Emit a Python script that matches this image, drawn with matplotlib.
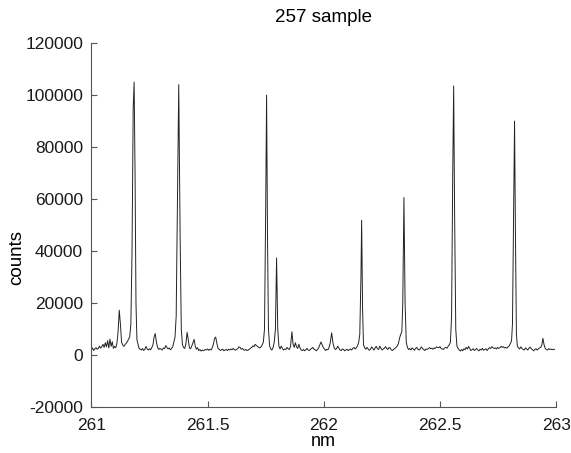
import matplotlib
matplotlib.use("Agg")
from matplotlib import pyplot as plt

# spectrum (wavelength in nm, counts)
wavelength = [
    261.000, 261.005, 261.010, 261.015, 261.020, 261.025, 261.030, 261.035, 261.040, 261.045,
    261.050, 261.055, 261.060, 261.065, 261.070, 261.075, 261.080, 261.085, 261.090, 261.095,
    261.100, 261.105, 261.110, 261.115, 261.120, 261.125, 261.130, 261.135, 261.140, 261.145,
    261.150, 261.155, 261.160, 261.165, 261.170, 261.175, 261.180, 261.184, 261.188, 261.192,
    261.196, 261.200, 261.205, 261.210, 261.215, 261.220, 261.225, 261.230, 261.235, 261.240,
    261.245, 261.250, 261.255, 261.260, 261.265, 261.270, 261.275, 261.280, 261.285, 261.290,
    261.295, 261.300, 261.305, 261.310, 261.315, 261.320, 261.325, 261.330, 261.335, 261.340,
    261.345, 261.350, 261.355, 261.360, 261.365, 261.370, 261.376, 261.382, 261.387, 261.392,
    261.397, 261.402, 261.407, 261.412, 261.417, 261.422, 261.427, 261.432, 261.437, 261.442,
    261.447, 261.452, 261.457, 261.462, 261.467, 261.472, 261.477, 261.482, 261.490, 261.495,
    261.500, 261.505, 261.510, 261.515, 261.520, 261.525, 261.530, 261.535, 261.540, 261.545,
    261.550, 261.555, 261.560, 261.565, 261.570, 261.575, 261.580, 261.585, 261.590, 261.595,
    261.600, 261.605, 261.610, 261.615, 261.620, 261.625, 261.630, 261.635, 261.640, 261.645,
    261.650, 261.655, 261.660, 261.665, 261.670, 261.675, 261.680, 261.685, 261.690, 261.695,
    261.700, 261.705, 261.710, 261.715, 261.720, 261.725, 261.730, 261.735, 261.740, 261.745,
    261.750, 261.754, 261.758, 261.762, 261.767, 261.772, 261.777, 261.782, 261.787, 261.792,
    261.797, 261.802, 261.807, 261.812, 261.817, 261.822, 261.827, 261.832, 261.837, 261.842,
    261.847, 261.852, 261.857, 261.863, 261.868, 261.873, 261.878, 261.883, 261.888, 261.893,
    261.898, 261.903, 261.908, 261.913, 261.918, 261.923, 261.928, 261.933, 261.938, 261.943,
    261.948, 261.953, 261.958, 261.963, 261.968, 261.973, 261.978, 261.983, 261.988, 261.993,
    261.998, 262.003, 262.008, 262.013, 262.018, 262.023, 262.028, 262.034, 262.040, 262.045,
    262.050, 262.055, 262.060, 262.065, 262.070, 262.075, 262.080, 262.085, 262.090, 262.095,
    262.100, 262.105, 262.110, 262.115, 262.120, 262.125, 262.130, 262.135, 262.140, 262.145,
    262.150, 262.155, 262.160, 262.163, 262.167, 262.171, 262.176, 262.181, 262.186, 262.191,
    262.196, 262.201, 262.206, 262.211, 262.216, 262.221, 262.226, 262.231, 262.236, 262.241,
    262.246, 262.251, 262.256, 262.261, 262.266, 262.271, 262.276, 262.281, 262.286, 262.291,
    262.296, 262.301, 262.306, 262.311, 262.316, 262.321, 262.326, 262.331, 262.336, 262.340,
    262.345, 262.350, 262.355, 262.360, 262.365, 262.370, 262.375, 262.380, 262.385, 262.390,
    262.395, 262.400, 262.405, 262.410, 262.415, 262.420, 262.425, 262.430, 262.435, 262.440,
    262.445, 262.450, 262.455, 262.460, 262.465, 262.470, 262.475, 262.480, 262.485, 262.490,
    262.495, 262.500, 262.505, 262.510, 262.515, 262.520, 262.525, 262.530, 262.535, 262.540,
    262.545, 262.550, 262.555, 262.559, 262.563, 262.568, 262.573, 262.578, 262.583, 262.588,
    262.593, 262.598, 262.603, 262.608, 262.613, 262.618, 262.623, 262.628, 262.633, 262.638,
    262.643, 262.648, 262.653, 262.658, 262.663, 262.668, 262.673, 262.678, 262.683, 262.688,
    262.693, 262.698, 262.703, 262.708, 262.713, 262.718, 262.723, 262.728, 262.733, 262.738,
    262.743, 262.748, 262.753, 262.758, 262.763, 262.768, 262.773, 262.778, 262.783, 262.788,
    262.793, 262.798, 262.803, 262.808, 262.812, 262.817, 262.821, 262.825, 262.829, 262.833,
    262.838, 262.843, 262.848, 262.853, 262.858, 262.863, 262.868, 262.873, 262.878, 262.883,
    262.888, 262.893, 262.898, 262.903, 262.908, 262.913, 262.918, 262.923, 262.928, 262.933,
    262.938, 262.943, 262.948, 262.953, 262.958, 262.963, 262.968, 262.973, 262.978, 262.983,
    262.988, 262.993,
]
counts = [
    2200, 2800, 1800, 2500, 2900, 2300, 2600, 3500, 2700, 3300,
    4200, 3000, 4800, 3200, 5600, 2800, 6200, 3400, 5200, 2600,
    3400, 2900, 4600, 9000, 17300, 12000, 5000, 3900, 3400, 4100,
    4600, 5200, 6200, 7000, 12000, 40000, 95000, 105000, 70000, 20000,
    6000, 4500, 2700, 2300, 2000, 2600, 1800, 2200, 3400, 2400,
    2000, 2500, 2100, 2900, 4000, 7000, 8300, 5000, 3000, 2200,
    2600, 2300, 2000, 2800, 2500, 3700, 3000, 2400, 2800, 2100,
    2600, 3200, 5000, 7000, 15000, 55000, 104000, 45000, 10000, 4000,
    3000, 2600, 4500, 8800, 6000, 2800, 2500, 3500, 4800, 6100,
    3500, 2300, 2900, 1800, 2200, 1600, 2000, 1700, 2200, 2000,
    2400, 1900, 2300, 2000, 2800, 4200, 6400, 7000, 4600, 2600,
    2300, 1800, 2100, 2300, 1700, 2000, 2200, 1800, 2300, 2000,
    2400, 2100, 2600, 2200, 1900, 2300, 2500, 3200, 3000, 2300,
    2600, 2100, 1900, 2200, 1800, 2000, 2300, 2700, 3000, 3600,
    3300, 4200, 3700, 3400, 3000, 2800, 3200, 4000, 5000, 10000,
    55000, 100000, 45000, 10000, 3500, 2400, 2000, 3000, 5000, 10000,
    37400, 10000, 3500, 2400, 3500, 2600, 2000, 2400, 2200, 3000,
    2500, 2200, 3400, 9000, 4200, 3000, 4800, 3200, 2600, 4200,
    2800, 2000, 1800, 2200, 1700, 2100, 2600, 2000, 1800, 2300,
    2600, 3000, 2300, 2100, 1700, 2200, 2800, 4000, 5100, 4000,
    3000, 2400, 1800, 2300, 2100, 3000, 4800, 8600, 4500, 2800,
    2200, 2500, 3500, 2700, 2000, 1800, 2400, 2200, 1700, 2000,
    2300, 1800, 2100, 2400, 2000, 2600, 3000, 2400, 2800, 3600,
    4800, 8000, 30000, 51900, 18000, 4000, 2800, 2300, 3000, 2400,
    1900, 2300, 3200, 2600, 2000, 2800, 3400, 2500, 2200, 3500,
    2700, 2000, 2400, 2700, 3300, 2600, 2200, 3000, 2800, 2000,
    1800, 2300, 2600, 3000, 3500, 4400, 6500, 8000, 9000, 20000,
    60600, 20000, 5000, 3000, 2200, 2600, 2000, 2800, 2400, 1900,
    2600, 3000, 2300, 2000, 2400, 3200, 2600, 2200, 1800, 2400,
    2200, 2600, 2900, 2500, 2700, 2300, 2800, 2600, 3200, 3000,
    2900, 3300, 2600, 2400, 2200, 2800, 3000, 2700, 3400, 4000,
    5000, 15000, 70000, 103500, 55000, 10000, 3500, 2600, 2000, 1600,
    2200, 1700, 2500, 2100, 3000, 2400, 3400, 2600, 1800, 2100,
    2500, 1800, 2200, 2600, 2000, 1700, 2300, 2000, 2600, 1900,
    2200, 2500, 1800, 2400, 2900, 2600, 3300, 2900, 2600, 2800,
    2400, 3000, 2600, 2900, 3400, 3000, 3300, 2800, 3000, 2700,
    3200, 3600, 4500, 5500, 12000, 55000, 90000, 45000, 8000, 3500,
    2800, 2400, 3200, 2600, 2200, 2000, 2800, 2400, 2000, 2700,
    3100, 2500, 2100, 1700, 2200, 2500, 2000, 2400, 2800, 3000,
    3800, 6500, 4000, 2600, 2200, 2000, 2500, 2200, 2400, 2100,
    2300, 2200,
]

x_ticks = [261, 261.5, 262, 262.5, 263]
x_tick_labels = ["261", "261.5", "262", "262.5", "263"]
y_ticks = [-20000, 0, 20000, 40000, 60000, 80000, 100000, 120000]

plt.rcParams['font.family'] = ['Liberation Sans', 'DejaVu Sans']

fig = plt.figure(figsize=(5.71, 4.53), dpi=100)
ax = fig.add_axes([0.160, 0.101, 0.814, 0.804])

ax.plot(wavelength, counts, color='#222222', linewidth=0.7)

ax.set_xlim(261, 263)
ax.set_ylim(-20000, 120000)
ax.set_xticks(x_ticks)
ax.set_xticklabels(x_tick_labels)
ax.set_yticks(y_ticks)
ax.set_yticklabels([str(v) for v in y_ticks])

ax.spines['top'].set_visible(False)
ax.spines['right'].set_visible(False)
for s in ['left', 'bottom']:
    ax.spines[s].set_color('#555555')
    ax.spines[s].set_linewidth(0.8)
ax.tick_params(direction='in', length=4, width=0.8, color='#555555',
               labelsize=12.5, labelcolor='#1a1a1a')
ax.tick_params(axis='x', pad=8)
ax.tick_params(axis='y', pad=6)

ax.set_title("257 sample", fontsize=13.5, pad=15)
ax.set_xlabel("nm", fontsize=13, labelpad=0)
ax.set_ylabel("counts", fontsize=13.5)
ax.yaxis.set_label_coords(-0.142, 0.41)

fig.savefig("out.png", dpi=100)
